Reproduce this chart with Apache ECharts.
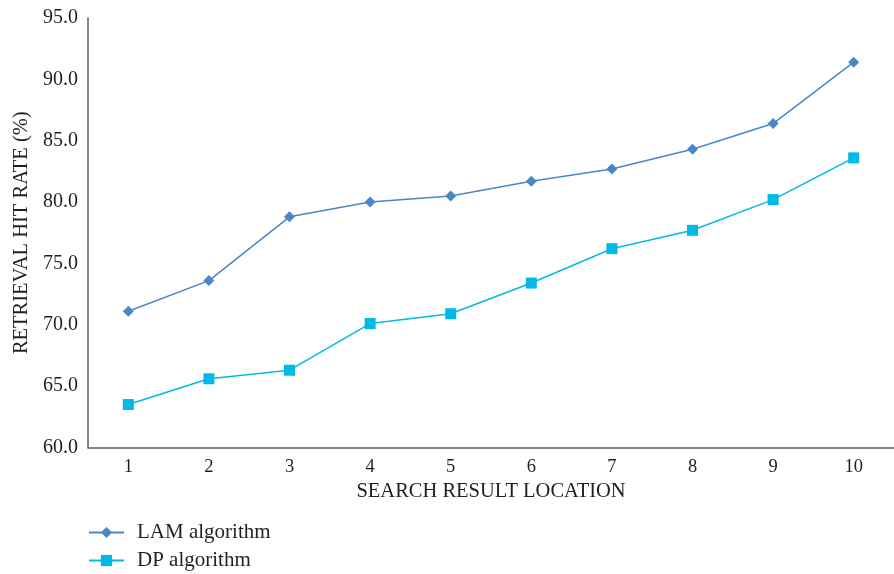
<!DOCTYPE html>
<html><head><meta charset="utf-8">
<script src="https://cdn.jsdelivr.net/npm/echarts@6/dist/echarts.min.js"></script>
<style>html,body{margin:0;padding:0;background:#fff}#c{width:894px;height:574px}</style>
</head><body><div id="c"></div>
<script>
const categories = ['1','2','3','4','5','6','7','8','9','10'];
const lamValues = [71.1, 73.6, 78.8, 80.0, 80.5, 81.7, 82.7, 84.3, 86.4, 91.4];
const dpValues = [63.5, 65.6, 66.3, 70.1, 70.9, 73.4, 76.2, 77.7, 80.2, 83.6];
const seriesNames = ['LAM algorithm', 'DP algorithm'];
const xAxisTitle = 'SEARCH RESULT LOCATION';
const yAxisTitle = 'RETRIEVAL HIT RATE (%)';

const font = 'Liberation Serif';
const textColor = '#231f20';
const legendBase = {
  orient: 'vertical', left: 88, padding: 0, itemWidth: 35, itemHeight: 14,
  textStyle: {fontFamily: font, fontSize: 21, color: textColor, padding: [0, 0, 0, 8]}
};
const chart = echarts.init(document.getElementById('c'));
chart.setOption({
  animation: false,
  textStyle: {fontFamily: font},
  grid: {left: 88, top: 18, width: 817, bottom: 126.5, containLabel: false},
  legend: [
    Object.assign({}, legendBase, {top: 522, data: [seriesNames[0]]}),
    Object.assign({}, legendBase, {top: 550, data: [seriesNames[1]]})
  ],
  xAxis: {
    type: 'category', data: categories, boundaryGap: true,
    axisLine: {lineStyle: {color: '#5a5a5a', width: 1.5}},
    axisTick: {show: false},
    axisLabel: {fontFamily: font, fontSize: 18.5, color: textColor, margin: 10},
    name: xAxisTitle, nameLocation: 'middle', nameGap: 29,
    nameTextStyle: {fontFamily: font, fontSize: 20.5, color: textColor}
  },
  yAxis: {
    type: 'value', min: 60, max: 95, interval: 5,
    axisLine: {show: true, lineStyle: {color: '#5a5a5a', width: 1.5}},
    axisTick: {show: false},
    splitLine: {show: false},
    axisLabel: {fontFamily: font, fontSize: 20, color: textColor, margin: 10,
      formatter: v => v.toFixed(1)},
    name: yAxisTitle, nameLocation: 'middle', nameGap: 52, nameRotate: 90,
    nameTextStyle: {fontFamily: font, fontSize: 20.5, color: textColor}
  },
  series: [
    {name: seriesNames[0], type: 'line', data: lamValues, symbol: 'diamond', symbolSize: 11,
      itemStyle: {color: '#4a87c6'}, lineStyle: {color: '#4a87c6', width: 1.5}},
    {name: seriesNames[1], type: 'line', data: dpValues, symbol: 'rect', symbolSize: 11,
      itemStyle: {color: '#00b9e6'}, lineStyle: {color: '#00b9e6', width: 1.5}}
  ]
});
</script></body></html>
